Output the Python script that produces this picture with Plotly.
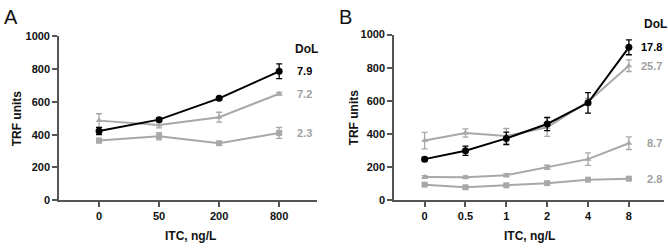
import plotly.graph_objects as go

W, H = 668, 250

# Panel A data
a_cats = ["0", "50", "200", "800"]
a_dol79 = [423, 492, 622, 787]
a_dol79_err = [22, 10, 8, 45]
a_dol72 = [486, 460, 507, 650]
a_dol72_err = [42, 18, 30, 8]
a_dol23 = [364, 390, 348, 411]
a_dol23_err = [14, 22, 6, 33]
a_labels = ["7.9", "7.2", "2.3"]

# Panel B data
b_cats = ["0", "0.5", "1", "2", "4", "8"]
b_dol178 = [248, 299, 373, 460, 588, 923]
b_dol178_err = [10, 28, 38, 40, 62, 45]
b_dol257 = [360, 406, 388, 440, 595, 812]
b_dol257_err = [50, 25, 45, 55, 20, 35]
b_dol87 = [140, 139, 151, 199, 248, 344]
b_dol87_err = [8, 8, 10, 12, 38, 38]
b_dol28 = [94, 78, 90, 103, 124, 130]
b_dol28_err = [6, 6, 6, 6, 8, 6]
b_labels = ["17.8", "25.7", "8.7", "2.8"]

BLACK = "#000000"
GRAY = "#a8a8a8"
GRAYTXT = "#a0a0a0"
TXT = "#111111"
FONT = "Liberation Sans"

def px_x(p):
    return p / W

def px_y(p):
    return 1 - p / H

fig = go.Figure()

def add(xs, ys, err, color, symbol, size, xa, ya, width=2):
    fig.add_trace(go.Scatter(
        x=xs, y=ys, mode="lines+markers",
        line=dict(color=color, width=width),
        marker=dict(color=color, symbol=symbol, size=size),
        error_y=dict(type="data", array=err, visible=True, color=color, thickness=1.3, width=3),
        xaxis=xa, yaxis=ya, showlegend=False, cliponaxis=False, hoverinfo="skip",
    ))

# order: gray first, black on top
add(a_cats, a_dol23, a_dol23_err, GRAY, "square", 6, "x", "y")
add(a_cats, a_dol72, a_dol72_err, GRAY, "triangle-up", 6, "x", "y")
add(a_cats, a_dol79, a_dol79_err, BLACK, "circle", 7, "x", "y")

add(b_cats, b_dol28, b_dol28_err, GRAY, "square", 6, "x2", "y2")
add(b_cats, b_dol87, b_dol87_err, GRAY, "triangle-up", 6, "x2", "y2")
add(b_cats, b_dol257, b_dol257_err, GRAY, "triangle-up", 6, "x2", "y2")
add(b_cats, b_dol178, b_dol178_err, BLACK, "circle", 7, "x2", "y2")

tickfont = dict(family=FONT, size=11, color=TXT, weight="bold")

axis_common = dict(showgrid=False, zeroline=False, showline=True, linecolor="#555555",
                   linewidth=1.6, ticks="outside", ticklen=5, tickwidth=1.6,
                   tickcolor="#555555", tickfont=tickfont, fixedrange=True)

fig.update_layout(
    width=W, height=H, margin=dict(l=0, r=0, t=0, b=0),
    plot_bgcolor="white", paper_bgcolor="white",
    xaxis=dict(domain=[px_x(59), px_x(317)], type="category", range=[-0.667, 3.63],
               anchor="y", **axis_common),
    yaxis=dict(domain=[px_y(204), px_y(32)], range=[0, 1000], tickvals=[0, 200, 400, 600, 800, 1000],
               anchor="x", **axis_common),
    xaxis2=dict(domain=[px_x(394), px_x(664)], type="category", range=[-0.75, 5.86],
                anchor="y2", **axis_common),
    yaxis2=dict(domain=[px_y(204), px_y(30)], range=[0, 1000], tickvals=[0, 200, 400, 600, 800, 1000],
                anchor="x2", **axis_common),
)

ann = []
def text(x, y, s, size=11, color=TXT, bold=True, xanchor="center", yanchor="middle", angle=0):
    ann.append(dict(x=px_x(x), y=px_y(y), xref="paper", yref="paper", text=s, showarrow=False,
                    xanchor=xanchor, yanchor=yanchor, textangle=angle,
                    font=dict(family=FONT, size=size, color=color, weight="bold" if bold else "normal")))

# axis titles
text(190, 242, "ITC, ng/L", size=12)
text(529, 242, "ITC, ng/L", size=12)
text(17, 118, "TRF units", size=12, angle=-90)
text(354, 117, "TRF units", size=12, angle=-90)
# panel letters
text(2, 12, "A", size=20, bold=False, xanchor="left")
text(337, 12, "B", size=20, bold=False, xanchor="left")

# DoL labels A
text(293, 45, "DoL", size=12, xanchor="left")
a_label_y = [a_dol79[-1], a_dol72[-1], a_dol23[-1]]
a_label_c = [BLACK, GRAYTXT, GRAYTXT]
for s, v, c in zip(a_labels, a_label_y, a_label_c):
    ann.append(dict(x=3.27, y=v, xref="x", yref="y", text=s, showarrow=False, xanchor="left",
                    font=dict(family=FONT, size=11, color=c, weight="bold")))

# DoL labels B
text(642, 19, "DoL", size=12, xanchor="left")
b_label_y = [b_dol178[-1], b_dol257[-1], b_dol87[-1], b_dol28[-1]]
b_label_c = [BLACK, GRAYTXT, GRAYTXT, GRAYTXT]
for s, v, c in zip(b_labels, b_label_y, b_label_c):
    ann.append(dict(x=5.85, y=v, xref="x2", yref="y2", text=s, showarrow=False, xanchor="right",
                    font=dict(family=FONT, size=11, color=c, weight="bold")))

fig.update_layout(annotations=ann)
fig.write_html("out.html", config={"displayModeBar": False},
               post_script="document.body.style.margin='0';document.body.style.overflow='hidden';")
